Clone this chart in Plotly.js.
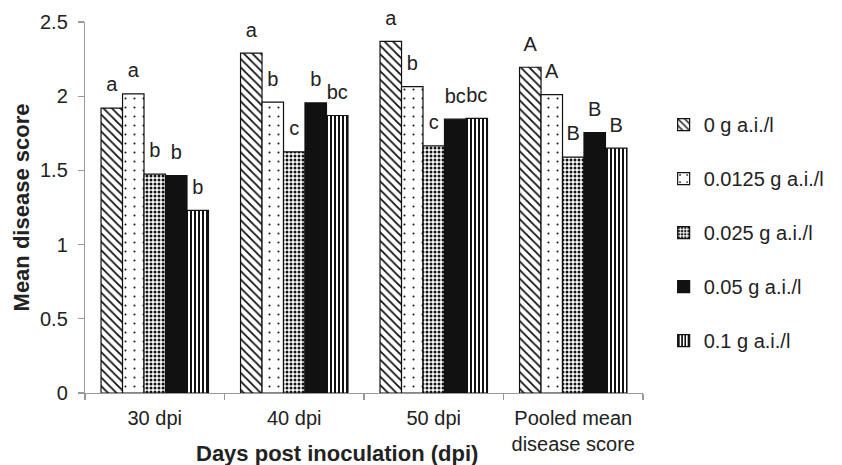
<!DOCTYPE html>
<html>
<head>
<meta charset="utf-8">
<script src="https://cdn.plot.ly/plotly-3.0.1.min.js"></script>
<style>html,body{margin:0;padding:0;background:#fff;}#chart{width:842px;height:465px;}</style>
</head>
<body>
<div id="chart"></div>
<script>
var categories = ["30 dpi", "40 dpi", "50 dpi", "Pooled mean<br>disease score"];
var seriesNames = ["0 g a.i./l", "0.0125 g a.i./l", "0.025 g a.i./l", "0.05 g a.i./l", "0.1 g a.i./l"];
var dose0 = [1.92, 2.29, 2.37, 2.195];
var dose00125 = [2.015, 1.96, 2.065, 2.01];
var dose0025 = [1.475, 1.625, 1.665, 1.59];
var dose005 = [1.465, 1.955, 1.845, 1.755];
var dose01 = [1.23, 1.87, 1.85, 1.65];
var letters0 = ["a", "a", "a", "A"];
var letters00125 = ["a", "b", "b", "A"];
var letters0025 = ["b", "c", "c", "B"];
var letters005 = ["b", "b", "bc", "B"];
var letters01 = ["b", "bc", "bc", "B"];
var yTicks = [0, 0.5, 1, 1.5, 2, 2.5];
var yTickText = ["0", "0.5", "1", "1.5", "2", "2.5"];

var FONT = "Liberation Sans, Arial, Helvetica, sans-serif";
var values = [dose0, dose00125, dose0025, dose005, dose01];
var letters = [letters0, letters00125, letters0025, letters005, letters01];
var patterns = [
  {shape: "\\", size: 6, solidity: 0.3, fgcolor: "#111", bgcolor: "#fff"},
  {shape: ".", size: 9, solidity: 0.04, fgcolor: "#111", bgcolor: "#fff"},
  {shape: ".", size: 4, solidity: 0.45, fgcolor: "#111", bgcolor: "#fff"},
  {shape: "", fgcolor: "#111", bgcolor: "#111"},
  {shape: "|", size: 4, solidity: 0.5, fgcolor: "#111", bgcolor: "#fff"}
];

var traces = values.map(function (v, i) {
  return {
    type: "bar",
    name: seriesNames[i],
    legendgroup: "g" + i,
    offsetgroup: "o" + i,
    x: categories,
    y: v,
    marker: {
      color: i === 3 ? "#111" : "#fff",
      line: {color: "#111", width: 1.2},
      pattern: patterns[i]
    },
    hoverinfo: "skip"
  };
});

var labelTraces = values.map(function (v, i) {
  return {
    type: "scatter",
    mode: "markers+text",
    showlegend: false,
    offsetgroup: "o" + i,
    x: categories,
    y: v,
    text: letters[i],
    textposition: "top center",
    textfont: {family: FONT, size: 20, color: "#222"},
    marker: {size: 17, opacity: 0, color: "#fff"},
    cliponaxis: false,
    hoverinfo: "skip"
  };
});

var layout = {
  width: 842,
  height: 465,
  margin: {l: 85, r: 181, t: 22, b: 72},
  paper_bgcolor: "#fff",
  plot_bgcolor: "#fff",
  barmode: "group",
  scattermode: "group",
  bargap: 0.23,
  scattergap: 0.23,
  bargroupgap: 0,
  font: {family: FONT, size: 20, color: "#222"},
  showlegend: true,
  legend: {
    x: 1.037, xanchor: "left",
    y: 0.776, yanchor: "top",
    font: {family: FONT, size: 20, color: "#222"},
    tracegroupgap: 25,
    itemwidth: 30,
    bgcolor: "rgba(0,0,0,0)"
  },
  xaxis: {
    type: "category",
    showline: true, linecolor: "#999", linewidth: 1.2,
    ticks: "outside", tickson: "boundaries", ticklen: 6, tickcolor: "#999", tickwidth: 1.2,
    tickfont: {family: FONT, size: 20, color: "#222"},
    ticklabelstandoff: 7,
    showgrid: false, zeroline: false,
    fixedrange: true
  },
  yaxis: {
    range: [0, 2.5],
    tickvals: yTicks, ticktext: yTickText,
    showline: true, linecolor: "#999", linewidth: 1.2,
    ticks: "outside", ticklen: 6, tickcolor: "#999", tickwidth: 1.2,
    tickfont: {family: FONT, size: 20, color: "#222"},
    ticklabelstandoff: 6,
    showgrid: false, zeroline: false,
    fixedrange: true
  },
  annotations: [
    {text: "<b>Days post inoculation (dpi)</b>", xref: "paper", yref: "paper",
     x: 0.451, y: -0.162, xanchor: "center", yanchor: "middle", showarrow: false,
     font: {family: FONT, size: 22, color: "#222"}},
    {text: "<b>Mean disease score</b>", xref: "paper", yref: "paper",
     x: -0.113, y: 0.5, xanchor: "center", yanchor: "middle", showarrow: false, textangle: -90,
     font: {family: FONT, size: 22, color: "#222"}}
  ]
};

Plotly.newPlot("chart", traces.concat(labelTraces), layout, {displayModeBar: false, staticPlot: true});
</script>
</body>
</html>
